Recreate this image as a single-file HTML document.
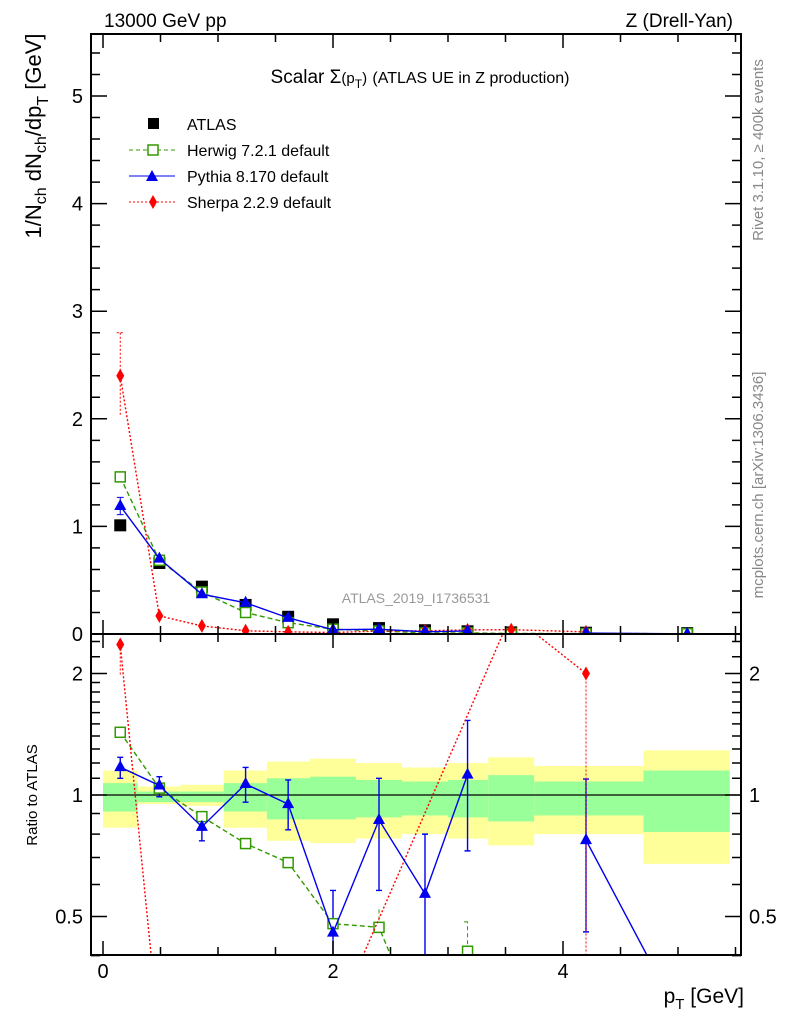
<!DOCTYPE html>
<html><head><meta charset="utf-8"><style>
html,body{margin:0;background:#fff;overflow:hidden;width:786px;height:1024px;}
svg{display:block;font-family:"Liberation Sans",sans-serif;}
</style></head><body>
<svg id="c" width="786" height="1024" viewBox="0 0 786 1024">
<text x="104" y="27" font-size="19">13000 GeV pp</text>
<text x="733" y="27" font-size="19" text-anchor="end">Z (Drell-Yan)</text>
<text x="420" y="83" font-size="19" text-anchor="middle">Scalar Σ<tspan font-size="15">(p</tspan><tspan font-size="12" dy="5">T</tspan><tspan font-size="15" dy="-5">)</tspan> <tspan font-size="16">(ATLAS UE in Z production)</tspan></text>
<text transform="translate(763,150) rotate(-90)" font-size="15" fill="#888" text-anchor="middle">Rivet 3.1.10, ≥ 400k events</text>
<text transform="translate(763,485) rotate(-90)" font-size="15" fill="#888" text-anchor="middle">mcplots.cern.ch [arXiv:1306.3436]</text>
<text x="416" y="603" font-size="14" fill="#999" text-anchor="middle">ATLAS_2019_I1736531</text>
<text transform="translate(41,136) rotate(-90)" font-size="22" text-anchor="middle">1/N<tspan font-size="16" dy="5">ch</tspan><tspan dy="-5"> dN</tspan><tspan font-size="16" dy="5">ch</tspan><tspan dy="-5">/dp</tspan><tspan font-size="16" dy="7">T</tspan><tspan dy="-7"> [GeV]</tspan></text>
<text transform="translate(37,795) rotate(-90)" font-size="15" text-anchor="middle">Ratio to ATLAS</text>
<text x="744" y="1003" font-size="21" text-anchor="end">p<tspan font-size="15" dy="6">T</tspan><tspan dy="-6"> [GeV]</tspan></text>
<g id="legend">
<g><rect x="148" y="118" width="11" height="11" fill="#000"/><text x="187" y="130" font-size="16">ATLAS</text></g>
<g><line x1="129" y1="150" x2="175" y2="150" stroke="#339900" stroke-dasharray="4,3"/><rect x="148" y="145" width="10" height="10" fill="#fff" stroke="#339900" stroke-width="1.5"/><text x="187" y="156" font-size="16">Herwig 7.2.1 default</text></g>
<g><line x1="129" y1="176" x2="175" y2="176" stroke="#0000ee"/><path d="M152,170 L158,181 L146,181Z" fill="#0000ee"/><text x="187" y="182" font-size="16">Pythia 8.170 default</text></g>
<g><line x1="129" y1="202" x2="175" y2="202" stroke="#ff0000" stroke-dasharray="2,2"/><path d="M153,195 L157,202 L153,209 L149,202Z" fill="#ff0000"/><text x="187" y="208" font-size="16">Sherpa 2.2.9 default</text></g>
</g>
</svg>
<script>
const binEdges=[0,0.3,0.675,1.05,1.425,1.8,2.2,2.6,3.0,3.35,3.75,4.7,5.45];
const binCenters=[0.15,0.49,0.86,1.24,1.61,2.0,2.4,2.8,3.17,3.55,4.2,5.08];
const atlasVals=[1.01,0.66,0.44,0.27,0.16,0.09,0.055,0.035,0.025,0.015,0.012,0.008];
const herwigVals=[1.46,0.685,0.39,0.2,0.105,0.045,0.028,0.01,0.01,0.005,0.004,0.003];
const pythiaVals=[1.19,0.70,0.37,0.29,0.15,0.04,0.045,0.02,0.028,null,0.009,0.002];
const sherpaVals=[2.4,0.168,0.075,0.03,0.02,0.014,0.027,0.03,0.038,0.04,0.02,null];
const yellowUp=[1.15,1.05,1.06,1.15,1.21,1.23,1.20,1.17,1.20,1.24,1.18,1.29];
const yellowDn=[0.83,0.95,0.94,0.83,0.77,0.76,0.78,0.80,0.78,0.75,0.80,0.675];
const greenUp=[1.07,1.02,1.02,1.07,1.10,1.11,1.09,1.08,1.09,1.12,1.08,1.15];
const greenDn=[0.91,0.96,0.96,0.91,0.87,0.87,0.88,0.89,0.88,0.86,0.89,0.81];
const herwigRatio=[1.43,1.04,0.884,0.758,0.68,0.48,0.47,0.25,0.41,0.2,0.3,0.3];
const pythiaRatio=[1.172,1.056,0.834,1.065,0.949,0.456,0.867,0.569,1.123,null,0.773,0.26];
const pythiaRatioHi=[1.24,1.11,0.90,1.17,1.09,0.58,1.10,0.80,1.53,null,1.095,null];
const pythiaRatioLo=[1.10,0.99,0.77,0.96,0.82,0.3,0.58,0.3,0.727,null,0.458,null];
const sherpaRatio=[2.36,0.25,0.17,0.11,0.12,0.27,null,null,null,2.8,2.0,null];
const mainTicks=[0,1,2,3,4,5];
const xTicks=[0,2,4];
const ratioTicks=[0.5,1,2];

const svg=document.getElementById('c');
const NS='http://www.w3.org/2000/svg';
const L=91,R=741,T=34,M=634,B=955;
const X0=103,XS=115;
function xs(v){return X0+v*XS;}
const YMAX=(M-T)/107.6;
function ym(v){return M-v*107.6;}
function yr(v){return 795-Math.log2(v)*121.5;}
function el(tag,attrs,parent){const e=document.createElementNS(NS,tag);for(const k in attrs)e.setAttribute(k,attrs[k]);(parent||svg).appendChild(e);return e;}

const defs=el('defs',{});
const c1=el('clipPath',{id:'cm'},defs);el('rect',{x:L,y:T,width:R-L,height:M-T},c1);
const c2=el('clipPath',{id:'cr'},defs);el('rect',{x:L,y:M,width:R-L,height:B-M},c2);
const gm=el('g',{'clip-path':'url(#cm)'});


const gr=el('g',{'clip-path':'url(#cr)'});



for(let i=0;i<binCenters.length;i++){
  const x1=xs(binEdges[i]),x2=xs(binEdges[i+1]);
  const y=el('rect',{x:x1,y:yr(yellowUp[i]),width:x2-x1,height:yr(yellowDn[i])-yr(yellowUp[i]),fill:'#ffff99'},gr);
  
  
  const g=el('rect',{x:x1,y:yr(greenUp[i]),width:x2-x1,height:yr(greenDn[i])-yr(greenUp[i]),fill:'#99ff99'},gr);
  
  
}
el('line',{x1:L,x2:R,y1:yr(1),y2:yr(1),stroke:'#000','stroke-width':1.2},gr);

function series(vals,yf,g,color,dash,marker,name,noLine,skipGaps){
  let d='';let pen=false;
  vals.forEach((v,i)=>{if(v==null||v<=0){if(!skipGaps)pen=false;return;}d+=(pen?'L':'M')+xs(binCenters[i])+','+yf(v);pen=true;});
  if(!noLine){
    const p=el('path',{d:d,fill:'none',stroke:color,'stroke-width':1.4,'stroke-dasharray':dash},g);
    
    
  }
  vals.forEach((v,i)=>{if(v==null||v<=0)return;const x=xs(binCenters[i]),y=yf(v);let m;
    if(marker==='sq')m=el('rect',{x:x-5,y:y-5,width:10,height:10,fill:'#fff',stroke:color,'stroke-width':1.5},g);
    else if(marker==='fsq')m=el('rect',{x:x-6,y:y-6,width:12,height:12,fill:color},g);
    else if(marker==='tri')m=el('path',{d:`M${x},${y-7}L${x+6},${y+4}L${x-6},${y+4}Z`,fill:color},g);
    else m=el('path',{d:`M${x},${y-7}L${x+4},${y}L${x},${y+7}L${x-4},${y}Z`,fill:color},g);
    
    
  });
}
series(atlasVals,ym,gm,'#000','none','fsq','atlas',true);
series(herwigVals,ym,gm,'#339900','5,3','sq','herwig');
series(sherpaVals,ym,gm,'#ff0000','2,2','dia','sherpa');
series(pythiaVals,ym,gm,'#0000ee','none','tri','pythia');
el('path',{d:`M${xs(0.15)},${ym(2.8)}V${ym(2.02)}M${xs(0.12)},${ym(2.8)}H${xs(0.18)}`,stroke:'#ff0000','stroke-dasharray':'2,2',fill:'none'},gm);
el('path',{d:`M${xs(0.15)},${ym(1.27)}V${ym(1.11)}M${xs(0.12)},${ym(1.27)}H${xs(0.18)}M${xs(0.12)},${ym(1.11)}H${xs(0.18)}`,stroke:'#0000ee',fill:'none'},gm);

pythiaRatio.forEach((v,i)=>{if(v==null||pythiaRatioHi[i]==null)return;const x=xs(binCenters[i]);
  const e=el('path',{d:`M${x},${yr(pythiaRatioHi[i])}V${yr(pythiaRatioLo[i])}M${x-3},${yr(pythiaRatioHi[i])}H${x+3}M${x-3},${yr(pythiaRatioLo[i])}H${x+3}`,stroke:'#0000ee','stroke-width':1.4,fill:'none'},gr);
  
  });
el('path',{d:`M${xs(4.2)},${yr(2)}V${B}M${xs(0.15)},${yr(2.36)}V${yr(1.98)}`,stroke:'#ff0000','stroke-dasharray':'2,2',fill:'none'},gr);
el('path',{d:`M${xs(3.17)},${yr(0.41)}V${yr(0.485)}M${xs(3.14)},${yr(0.485)}H${xs(3.2)}M${xs(2.4)},${yr(0.47)}V${yr(0.53)}`,stroke:'#339900','stroke-dasharray':'4,3',fill:'none'},gr);
series(herwigRatio,yr,gr,'#339900','5,3','sq','herwig-ratio');
series(sherpaRatio,yr,gr,'#ff0000','2,2','dia','sherpa-ratio',false,true);
series(pythiaRatio,yr,gr,'#0000ee','none','tri','pythia-ratio');

const f1=el('rect',{x:L,y:T,width:R-L,height:M-T,fill:'none',stroke:'#000','stroke-width':2});


const f2=el('rect',{x:L,y:M,width:R-L,height:B-M,fill:'none',stroke:'#000','stroke-width':2});



let tk='';
for(let v=0;v<=5.5;v+=0.5){const x=xs(v);const len=(v%2===0)?14:8;
  tk+=`M${x},${M}v-${len}M${x},${T}v${len}M${x},${B}v-${len}M${x},${M}v${len}`;}
for(let v=0;v<=YMAX;v+=0.2){const y=ym(v);const maj=Math.abs(v-Math.round(v))<1e-6;const len=maj?16:9;
  tk+=`M${L},${y}h${len}M${R},${y}h-${len}`;}
const rmin=[0.4,0.6,0.7,0.8,0.9,1.1,1.2,1.3,1.4,1.5,1.6,1.7,1.8,1.9,2.2,2.4];
rmin.forEach(v=>{const y=yr(v);tk+=`M${L},${y}h9M${R},${y}h-9`;});
ratioTicks.forEach(v=>{const y=yr(v);tk+=`M${L},${y}h16M${R},${y}h-16`;});
const tp=el('path',{d:tk,stroke:'#000','stroke-width':1.5,fill:'none'});



mainTicks.forEach(v=>{const t=el('text',{x:83,y:ym(v)+7,'font-size':20,'text-anchor':'end'});t.textContent=v;
  
  });
xTicks.forEach(v=>{const t=el('text',{x:xs(v),y:978,'font-size':20,'text-anchor':'middle'});t.textContent=v;
  
  });
ratioTicks.forEach(v=>{
  const t=el('text',{x:83,y:yr(v)+7,'font-size':20,'text-anchor':'end'});t.textContent=v;
  
  
  const t2=el('text',{x:749,y:yr(v)+7,'font-size':20});t2.textContent=v;
  
  });
</script>
</body></html>
